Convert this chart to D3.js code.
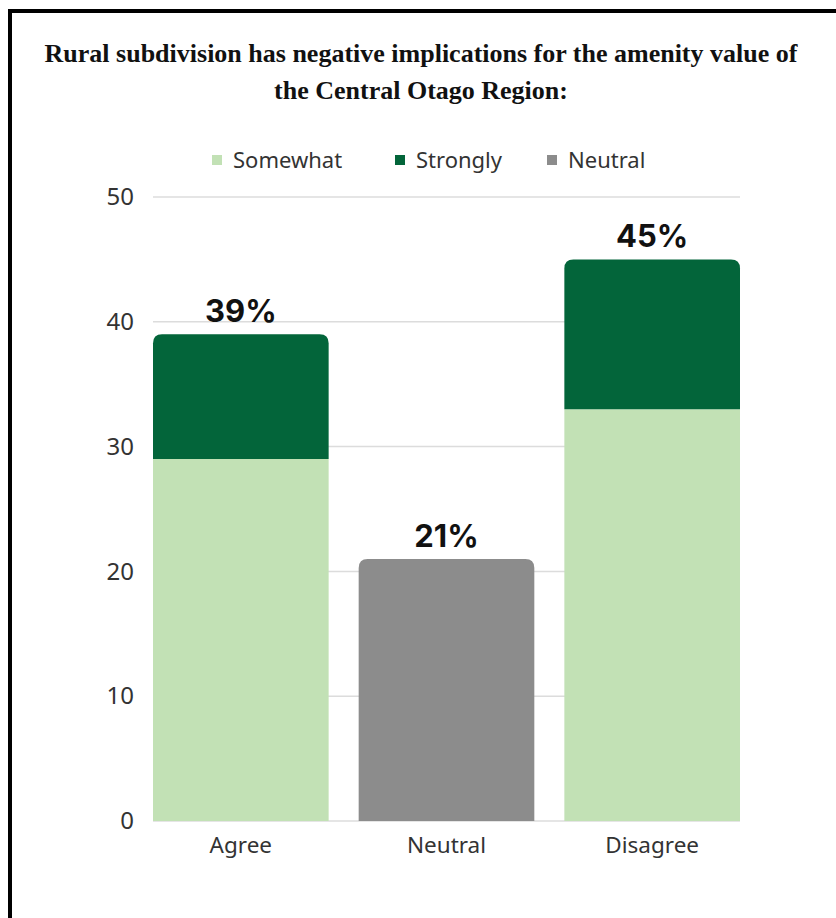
<!DOCTYPE html>
<html><head><meta charset="utf-8">
<script src="https://cdn.jsdelivr.net/npm/d3@7"></script>
<style>body{margin:0;background:#fff}svg{display:block}</style>
</head><body>
<script>
const categories = ["Agree", "Neutral", "Disagree"];
const somewhat = [29, 0, 33];
const strongly = [10, 0, 12];
const neutral = [0, 21, 0];
const totals = ["39%", "21%", "45%"];
const yTicks = [0, 10, 20, 30, 40, 50];
const legendLabels = ["Somewhat", "Strongly", "Neutral"];
const colors = {Somewhat: "#c2e1b5", Strongly: "#03653a", Neutral: "#8c8c8c"};

const W = 836, H = 918;
const svg = d3.select("body").append("svg").attr("width", W).attr("height", H);
svg.append("rect").attr("width", W).attr("height", H).attr("fill", "#fff");
svg.append("rect").attr("x", 10).attr("y", 11).attr("width", W + 20).attr("height", H + 20)
  .attr("fill", "none").attr("stroke", "#000").attr("stroke-width", 4);

const titleFont = "Liberation Serif, Times New Roman, serif";
svg.append("text").attr("x", 421).attr("y", 62).attr("text-anchor", "middle")
  .style("font-family", titleFont).style("font-weight", "bold")
  .style("font-size", "26px").attr("fill", "#111")
  .text("Rural subdivision has negative implications for the amenity value of");
svg.append("text").attr("x", 421).attr("y", 99).attr("text-anchor", "middle")
  .style("font-family", titleFont).style("font-weight", "bold")
  .style("font-size", "26px").attr("fill", "#111")
  .text("the Central Otago Region:");

const x = d3.scaleBand().domain(categories).range([153, 740]).paddingInner(0.146).paddingOuter(0);
const y = d3.scaleLinear().domain([0, 50]).range([821, 197]);

const font = "Noto Sans, Open Sans, sans-serif";

// grid
svg.append("g").selectAll("line").data(yTicks).join("line")
  .attr("x1", 153).attr("x2", 740).attr("y1", d => y(d)).attr("y2", d => y(d))
  .attr("stroke", "#dcdcdc").attr("stroke-width", 1.5);

// y axis
const yAxis = svg.append("g").attr("transform", "translate(153,0)")
  .call(d3.axisLeft(y).tickValues(yTicks).tickSize(0).tickPadding(19));
yAxis.select(".domain").remove();
yAxis.selectAll("text").style("font-family", font).style("font-size", "24px").attr("fill", "#333");

// x axis
const xAxis = svg.append("g").attr("transform", "translate(0,821)")
  .call(d3.axisBottom(x).tickSize(0).tickPadding(16));
xAxis.select(".domain").remove();
xAxis.selectAll("text").style("font-family", font).style("font-size", "22.5px").attr("fill", "#333");

// stacked data
const rows = categories.map((c, i) => ({cat: c, Somewhat: somewhat[i], Strongly: strongly[i], Neutral: neutral[i]}));
const stack = d3.stack().keys(legendLabels)(rows);
const r = 9;
function barPath(x0, w, yTop, yBot, rounded) {
  if (!rounded) return `M${x0},${yBot}V${yTop}H${x0+w}V${yBot}Z`;
  return `M${x0},${yBot}V${yTop+r}Q${x0},${yTop} ${x0+r},${yTop}H${x0+w-r}Q${x0+w},${yTop} ${x0+w},${yTop+r}V${yBot}Z`;
}
stack.forEach(layer => {
  svg.append("g").selectAll("path").data(layer.filter(d => d[1] - d[0] > 0)).join("path")
    .attr("fill", colors[layer.key])
    .attr("d", d => {
      const isTop = legendLabels.slice(legendLabels.indexOf(layer.key) + 1).every(k => d.data[k] === 0);
      return barPath(x(d.data.cat), x.bandwidth(), y(d[1]), y(d[0]), isTop);
    });
});

// total labels
const tot = categories.map((c, i) => somewhat[i] + strongly[i] + neutral[i]);
svg.append("g").selectAll("text").data(categories).join("text")
  .attr("x", d => x(d) + x.bandwidth() / 2).attr("y", (d, i) => y(tot[i]) - 12)
  .attr("text-anchor", "middle").style("font-family", "Inter, sans-serif").style("font-weight", "bold")
  .style("font-size", "31px").attr("fill", "#111").text((d, i) => totals[i]);

// legend
const legX = [212, 395, 547];
const lg = svg.append("g").selectAll("g").data(legendLabels).join("g")
  .attr("transform", (d, i) => `translate(${legX[i]},160)`);
lg.append("rect").attr("x", 0).attr("y", -5).attr("width", 10).attr("height", 10).attr("fill", d => colors[d]);
lg.append("text").attr("x", 21).attr("y", 0).attr("dy", "0.35em")
  .style("font-family", font).style("font-size", "22px").attr("fill", "#333").text(d => d);
</script>
</body></html>
